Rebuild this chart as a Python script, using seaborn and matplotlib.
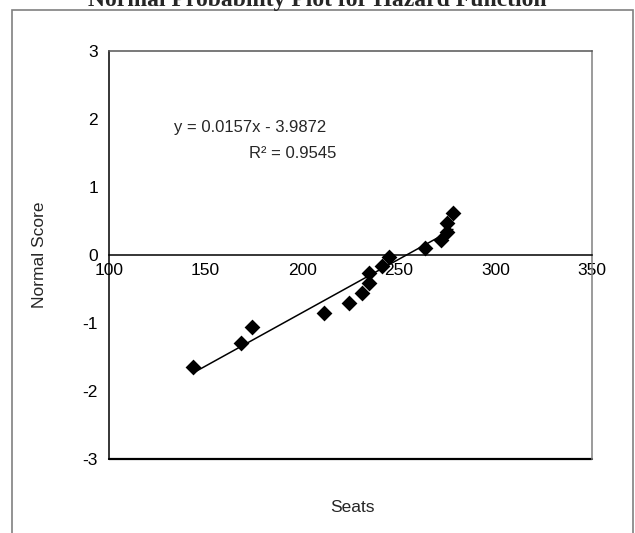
import numpy as np
import pandas as pd
import seaborn as sns
import matplotlib.pyplot as plt
from matplotlib.patches import Rectangle

# values
seats = [143.5, 168.5, 173.8, 211.3, 224.2, 231.0, 234.6, 234.6, 241.3,
         245.0, 263.6, 271.8, 275.0, 275.0, 278.0]
normal_score = [-1.65, -1.29, -1.06, -0.85, -0.71, -0.56, -0.41, -0.27, -0.16,
                -0.03, 0.10, 0.22, 0.34, 0.47, 0.62]
slope = 0.0157
intercept = -3.9872
r_squared = 0.9545
x_ticks = [100, 150, 200, 250, 300, 350]
y_ticks = [-3, -2, -1, 0, 1, 2, 3]

df = pd.DataFrame({"Seats": seats, "Normal Score": normal_score})
x_fit = np.array([min(seats), max(seats)])
fit = pd.DataFrame({"Seats": x_fit, "fit": slope * x_fit + intercept})

sns.set_style("white")
plt.rcParams["font.family"] = ["Liberation Sans", "DejaVu Sans"]
plt.rcParams["axes.unicode_minus"] = False

fig = plt.figure(figsize=(6.35, 5.33), dpi=100)
ax = fig.add_axes([0.1717, 0.1388, 0.7606, 0.7655])

# outer chart border
fig.patches.append(Rectangle((12 / 635, -0.05), 621 / 635, 1.05 - 10 / 533,
                             transform=fig.transFigure, fill=False,
                             edgecolor="#808080", linewidth=1.2))

sns.lineplot(data=fit, x="Seats", y="fit", color="black", linewidth=1.1, ax=ax)
sns.scatterplot(data=df, x="Seats", y="Normal Score", marker="D", s=65,
                color="black", edgecolor="black", linewidth=0, ax=ax, zorder=3)

ax.set_xlim(100, 350)
ax.set_ylim(-3, 3)
ax.set_xticks(x_ticks)
ax.set_yticks(y_ticks)
ax.spines["bottom"].set_position(("data", 0))
ax.spines["bottom"].set_color("black")
ax.spines["left"].set_color("black")
ax.spines["top"].set_color("#555555")
ax.spines["right"].set_color("#808080")
for s in ax.spines.values():
    s.set_linewidth(1.1)
# plot-area bottom edge
ax.axhline(-3, color="black", linewidth=1.6, clip_on=False)
ax.tick_params(axis="both", direction="inout", length=8, width=1, color="black",
               labelsize=12.5, labelcolor="black")
ax.tick_params(axis="x", pad=2)
ax.tick_params(axis="y", pad=4)

ax.set_xlabel("Seats", fontsize=12.5)
ax.set_ylabel("Normal Score", fontsize=12.5)
ax.xaxis.set_label_coords(0.503, -0.10)
ax.yaxis.set_label_coords(-0.128, 0.5)

ax.text(173, 1.87, f"y = {slope}x - {abs(intercept)}", ha="center", va="center",
        fontsize=12)
ax.text(195, 1.50, f"R\u00b2 = {r_squared}", ha="center", va="center", fontsize=12)

fig.text(0.5, 1 - 6 / 533, "Normal Probability Plot for Hazard Function",
         ha="center", va="baseline", fontsize=17, fontweight="bold",
         family=["Liberation Serif", "DejaVu Serif"])

fig.savefig("out.png", dpi=100)
